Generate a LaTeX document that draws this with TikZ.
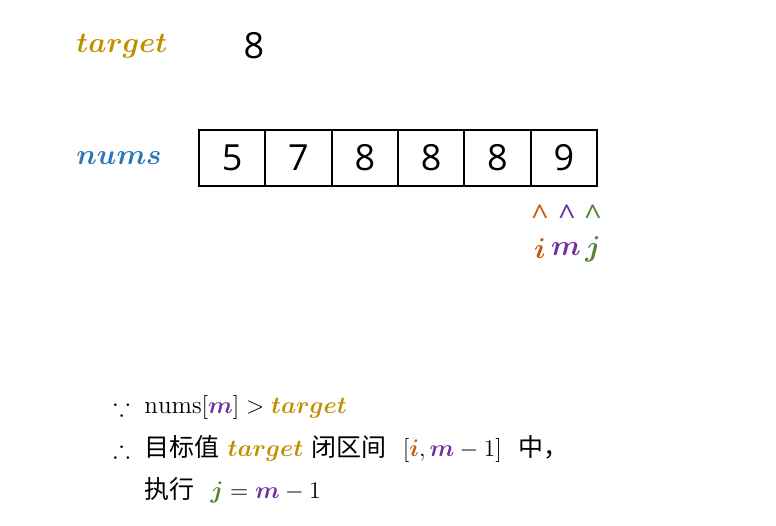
\documentclass[tikz,border=0pt]{standalone}
\usepackage{amsmath,amssymb,bm}
\usepackage{fontspec}
\newfontfamily\cjk{Noto Sans CJK SC}
\newfontfamily\numfont{Open Sans}
\usetikzlibrary{positioning}
\definecolor{goldC}{HTML}{BF9000}
\definecolor{blueC}{HTML}{2E75B6}
\definecolor{iC}{HTML}{C55A11}
\definecolor{mC}{HTML}{7030A0}
\definecolor{jC}{HTML}{548235}
\tikzset{
  varlab/.style={font=\fontsize{14}{16}\selectfont,anchor=west,inner sep=0pt},
  cell/.style={draw,line width=0.9pt,minimum width=33.15pt,minimum height=28pt,inner sep=0pt,
    font=\numfont\fontsize{18}{20}\selectfont},
  ptr/.style={font=\numfont\fontsize{15}{16}\selectfont,inner sep=0pt},
  ptrlab/.style={font=\fontsize{14}{16}\selectfont,inner sep=0pt},
  note/.style={font=\fontsize{12.5}{14}\selectfont,anchor=west,inner sep=0pt}}
\begin{document}
\begin{tikzpicture}[x=0.5pt,y=-0.5pt]
\useasboundingbox (0,0) rectangle (776,525);
% target value
\node[varlab,text=goldC] (tlab) at (76,46) {$\bm{target}$};
\node[font=\numfont\fontsize{18}{20}\selectfont,inner sep=0pt] (tval) at (254,46) {8};
% array
\node[varlab,text=blueC] (nlab) at (76,158) {$\bm{nums}$};
\node[cell] (c1) at (232.2,158) {5};
\node[cell] (c2) at (298.5,158) {7};
\node[cell] (c3) at (364.8,158) {8};
\node[cell] (c4) at (431.2,158) {8};
\node[cell] (c5) at (497.5,158) {8};
\node[cell] (c6) at (563.8,158) {9};
% pointers
\node[ptr,text=iC] (pi) at (540,216) {\textasciicircum};
\node[ptr,text=mC] (pm) at (567,216) {\textasciicircum};
\node[ptr,text=jC] (pj) at (593,216) {\textasciicircum};
\node[ptrlab,text=iC] (li) at (540,249) {$\bm{i}$};
\node[ptrlab,text=mC] (lm) at (566,249) {$\bm{m}$};
\node[ptrlab,text=jC] (lj) at (593,249) {$\bm{j}$};
% explanation
\node[note] (s1) at (113,407) {$\because$};
\node[note] (l1) at (144,407) {$\mathrm{nums}[\textcolor{mC}{\bm{m}}]>\textcolor{goldC}{\bm{target}}$};
\node[note] (s2) at (113,449) {$\therefore$};
\node[note] (l2) at (144,449) {{\cjk 目标值} $\textcolor{goldC}{\bm{target}}$ {\cjk 闭区间}\ \ $[\textcolor{iC}{\bm{i}},\textcolor{mC}{\bm{m}}-1]$\ \ {\cjk 中，}};
\node[note] (l3) at (144,490) {{\cjk 执行}\ \ $\textcolor{jC}{\bm{j}}=\textcolor{mC}{\bm{m}}-1$};
\end{tikzpicture}
\end{document}
